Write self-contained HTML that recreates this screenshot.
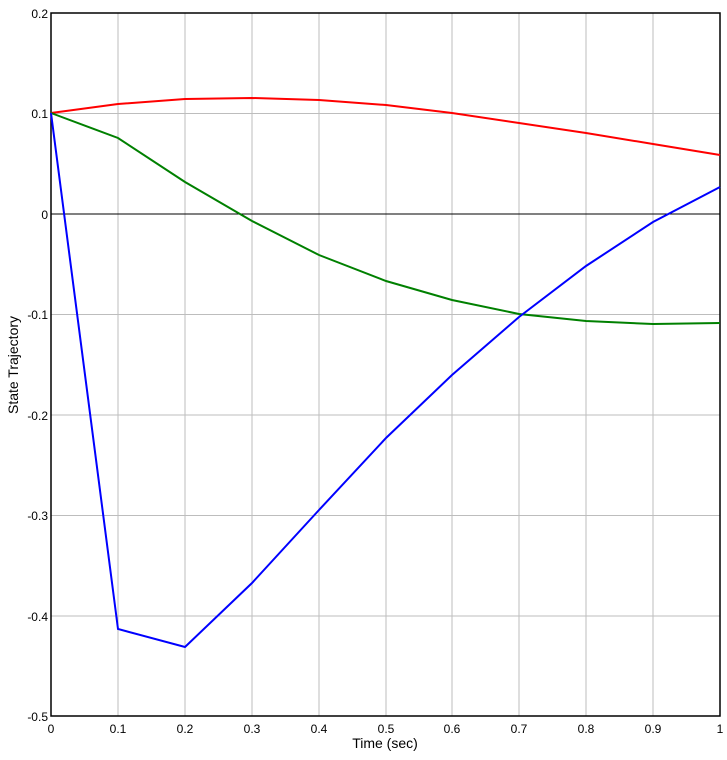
<!DOCTYPE html>
<html><head><style>body{margin:0;background:#fff}</style></head><body>
<svg width="727" height="755" xmlns="http://www.w3.org/2000/svg" font-family="Liberation Sans, sans-serif" font-size="12">
<g stroke="#bdbdbd" stroke-width="1">
<line x1="118" y1="13" x2="118" y2="716"/><line x1="185" y1="13" x2="185" y2="716"/><line x1="252" y1="13" x2="252" y2="716"/><line x1="319" y1="13" x2="319" y2="716"/><line x1="386" y1="13" x2="386" y2="716"/><line x1="452" y1="13" x2="452" y2="716"/><line x1="519" y1="13" x2="519" y2="716"/><line x1="586" y1="13" x2="586" y2="716"/><line x1="653" y1="13" x2="653" y2="716"/>
<line x1="51" y1="113.5" x2="720" y2="113.5"/><line x1="51" y1="314.5" x2="720" y2="314.5"/><line x1="51" y1="415" x2="720" y2="415"/><line x1="51" y1="515.5" x2="720" y2="515.5"/><line x1="51" y1="616" x2="720" y2="616"/>
</g>
<line x1="51" y1="214" x2="720" y2="214" stroke="#000"/>
<rect x="51" y="13" width="669" height="703" fill="none" stroke="#000" stroke-width="1.5"/>
<g fill="none" stroke-width="2">
<polyline stroke="#f00" points="51,113 118,104 185,99 252,98 319,100 386,105 452,113 519,123 586,133 653,144 720,155"/>
<polyline stroke="#008000" points="51,113 118,138 185,182 252,221 319,255 386,281 452,300 519,314 586,321 653,324 720,323"/>
<polyline stroke="#00f" points="51,113 118,629 185,647 252,583 319,510 386,438 452,375 519,317 586,266 653,222 720,187"/>
</g>
<g text-anchor="end">
<text x="48" y="18">0.2</text><text x="48" y="118">0.1</text><text x="48" y="219">0</text><text x="48" y="319">-0.1</text><text x="48" y="420">-0.2</text><text x="48" y="520">-0.3</text><text x="48" y="621">-0.4</text><text x="48" y="721">-0.5</text>
</g>
<g text-anchor="middle">
<text x="51" y="733">0</text><text x="118" y="733">0.1</text><text x="185" y="733">0.2</text><text x="252" y="733">0.3</text><text x="319" y="733">0.4</text><text x="386" y="733">0.5</text><text x="452" y="733">0.6</text><text x="519" y="733">0.7</text><text x="586" y="733">0.8</text><text x="653" y="733">0.9</text><text x="720" y="733">1</text>
<text x="385" y="748" font-size="14">Time (sec)</text>
<text transform="translate(18,365) rotate(-90)" font-size="14">State Trajectory</text>
</g>
</svg>
</body></html>
